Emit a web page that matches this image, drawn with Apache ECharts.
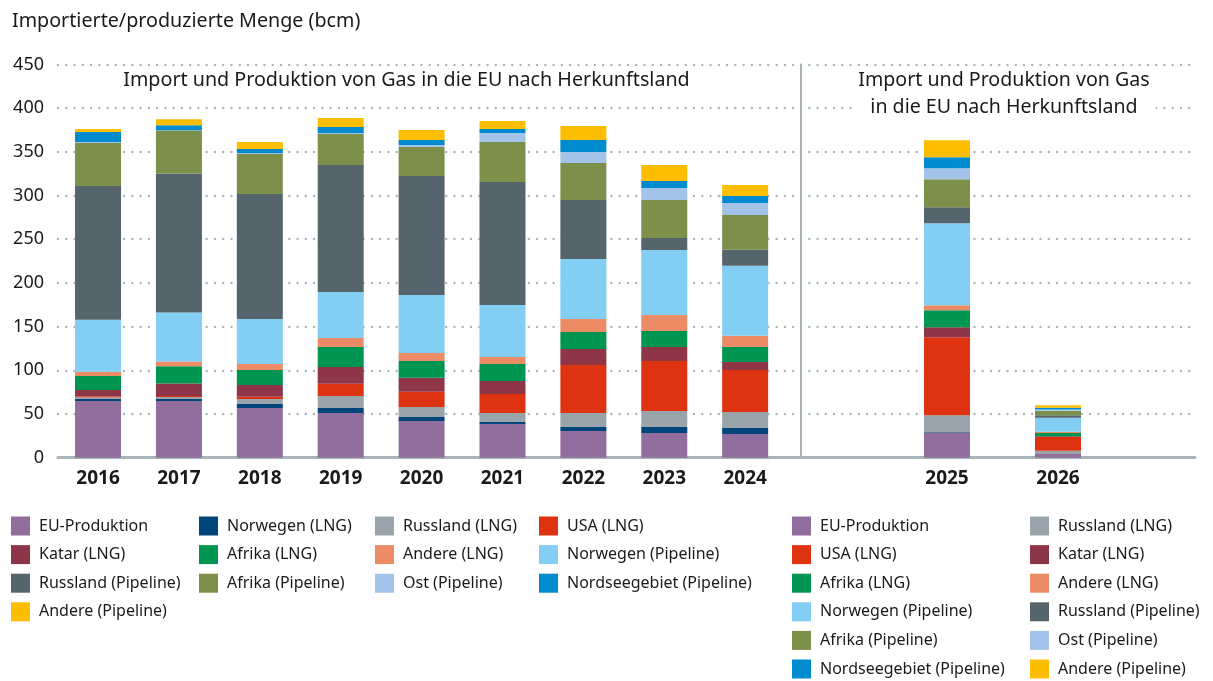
<!DOCTYPE html>
<html>
<head>
<meta charset="utf-8">
<script src="https://cdn.jsdelivr.net/npm/echarts@6/dist/echarts.min.js"></script>
<style>
  html, body { margin: 0; padding: 0; background: #fff; }
  #chart { width: 1213px; height: 681px; }
</style>
</head>
<body>
<div id="chart"></div>
<script>
// ---- Data (bcm) ----
const yearsHist = ['2016', '2017', '2018', '2019', '2020', '2021', '2022', '2023', '2024'];
const yearsForecast = ['2025', '2026'];
const yTicks = [0, 50, 100, 150, 200, 250, 300, 350, 400, 450];

// values: 2016..2024, then 2025, 2026
const euProduktion     = [64.8, 64.8, 56.8, 51.1, 42.0, 38.5, 30.5, 28.2, 27.1, 28.2, 4.2];
const norwegenLNG      = [2.7, 2.3, 4.6, 5.7, 4.6, 2.3, 4.6, 6.9, 6.9, 1.0, 0];
const russlandLNG      = [1.5, 2.3, 5.7, 13.7, 11.4, 10.3, 16.0, 18.3, 18.3, 19.5, 3.8];
const usaLNG           = [1.0, 1.1, 2.7, 14.1, 17.5, 21.7, 54.9, 57.2, 48.1, 89.2, 15.6];
const katarLNG         = [7.6, 14.5, 13.3, 19.1, 16.0, 14.9, 18.3, 16.0, 9.2, 11.4, 0.8];
const afrikaLNG        = [16.0, 19.5, 17.2, 22.9, 19.1, 19.5, 19.5, 18.3, 17.2, 19.5, 3.8];
const andereLNG        = [4.6, 5.7, 6.9, 10.3, 9.2, 8.0, 14.9, 18.3, 12.6, 5.7, 1.5];
const norwegenPipe     = [59.5, 56.0, 51.5, 52.6, 66.4, 59.5, 68.6, 74.4, 80.1, 93.8, 16.0];
const russlandPipe     = [153.3, 159.0, 143.0, 145.3, 136.2, 140.7, 67.5, 13.7, 18.3, 18.3, 3.0];
const afrikaPipe       = [49.2, 49.2, 45.8, 35.5, 33.2, 45.8, 42.3, 43.5, 40.0, 32.0, 5.0];
const ostPipe          = [1.1, 0.3, 1.1, 1.1, 2.3, 10.3, 12.6, 13.7, 13.7, 12.6, 1.5];
const nordseePipe      = [11.4, 5.7, 4.6, 6.9, 5.7, 4.6, 13.7, 8.0, 8.0, 12.6, 1.9];
const anderePipe       = [3.4, 6.9, 8.0, 10.3, 11.4, 9.2, 16.0, 18.3, 12.6, 19.5, 3.0];

const seriesDefs = [
  { name: 'EU-Produktion', values: euProduktion, color: '#926e9e' },
  { name: 'Norwegen (LNG)', values: norwegenLNG, color: '#00457a' },
  { name: 'Russland (LNG)', values: russlandLNG, color: '#99a4ab' },
  { name: 'USA (LNG)', values: usaLNG, color: '#de3310' },
  { name: 'Katar (LNG)', values: katarLNG, color: '#8e3548' },
  { name: 'Afrika (LNG)', values: afrikaLNG, color: '#009551' },
  { name: 'Andere (LNG)', values: andereLNG, color: '#eb8c66' },
  { name: 'Norwegen (Pipeline)', values: norwegenPipe, color: '#83cff4' },
  { name: 'Russland (Pipeline)', values: russlandPipe, color: '#56646c' },
  { name: 'Afrika (Pipeline)', values: afrikaPipe, color: '#7d904b' },
  { name: 'Ost (Pipeline)', values: ostPipe, color: '#a3c3e8' },
  { name: 'Nordseegebiet (Pipeline)', values: nordseePipe, color: '#008bcf' },
  { name: 'Andere (Pipeline)', values: anderePipe, color: '#fdbd00' }
];

const legendLeftCols = [
  ['EU-Produktion', 'Katar (LNG)', 'Russland (Pipeline)', 'Andere (Pipeline)'],
  ['Norwegen (LNG)', 'Afrika (LNG)', 'Afrika (Pipeline)'],
  ['Russland (LNG)', 'Andere (LNG)', 'Ost (Pipeline)'],
  ['USA (LNG)', 'Norwegen (Pipeline)', 'Nordseegebiet (Pipeline)']
];
const legendRightCols = [
  ['EU-Produktion', 'USA (LNG)', 'Afrika (LNG)', 'Norwegen (Pipeline)', 'Afrika (Pipeline)', 'Nordseegebiet (Pipeline)'],
  ['Russland (LNG)', 'Katar (LNG)', 'Andere (LNG)', 'Russland (Pipeline)', 'Ost (Pipeline)', 'Andere (Pipeline)']
];

const titleHist = 'Import und Produktion von Gas in die EU nach Herkunftsland';
const titleForecast = 'Import und Produktion von Gas\nin die EU nach Herkunftsland';
const yAxisTitle = 'Importierte/produzierte Menge (bcm)';

// ---- Layout / style ----
const FONT = 'Noto Sans';
const TXT = '#1a1a1a';
const LINEC = '#a9b4bb';
const TOP = 64.4, HEIGHT = 393.3;
const nHist = yearsHist.length;

const splitLineStyle = { show: true, lineStyle: { color: LINEC, width: 2.4, type: [0.01, 8.25], cap: 'round' } };

function bgYAxis(gridIndex, labels, sepLine) {
  return {
    type: 'value', gridIndex: gridIndex, min: yTicks[0], max: yTicks[yTicks.length - 1],
    interval: yTicks[1] - yTicks[0],
    axisLabel: { show: labels, fontFamily: FONT, fontSize: 18, color: TXT, margin: 14 },
    axisLine: { show: sepLine, lineStyle: { color: LINEC, width: 2 } },
    axisTick: { show: false },
    splitLine: splitLineStyle
  };
}
function bgXAxis(gridIndex) {
  return {
    type: 'value', gridIndex: gridIndex, min: 0, max: 1,
    axisLine: { show: true, onZero: false, lineStyle: { color: LINEC, width: 3 } },
    axisLabel: { show: false }, axisTick: { show: false }, splitLine: { show: false }
  };
}
function dataXAxis(gridIndex, cats) {
  return {
    type: 'category', gridIndex: gridIndex, data: cats,
    axisLine: { show: false }, axisTick: { show: false },
    axisLabel: { fontFamily: FONT, fontSize: 19, fontWeight: 'bold', color: TXT, margin: 11 }
  };
}
function dataYAxis(gridIndex) {
  return { type: 'value', gridIndex: gridIndex, min: yTicks[0], max: yTicks[yTicks.length - 1], show: false, splitLine: { show: false } };
}

const series = [];
seriesDefs.forEach(function (d) {
  series.push({
    name: d.name, type: 'bar', stack: 'hist', xAxisIndex: 2, yAxisIndex: 2,
    barWidth: 46, itemStyle: { color: d.color }, data: d.values.slice(0, nHist)
  });
});
seriesDefs.forEach(function (d) {
  series.push({
    name: d.name, type: 'bar', stack: 'fc', xAxisIndex: 3, yAxisIndex: 3,
    barWidth: 46, itemStyle: { color: d.color }, data: d.values.slice(nHist)
  });
});

function legendCol(names, left) {
  return {
    orient: 'vertical', left: left, top: 516.5, padding: 0,
    itemWidth: 19, itemHeight: 19, itemGap: 9.6, icon: 'rect',
    textStyle: { fontFamily: FONT, fontSize: 16, color: TXT, padding: [0, 0, 0, 4] },
    data: names
  };
}

const option = {
  animation: false,
  backgroundColor: '#ffffff',
  textStyle: { fontFamily: FONT },
  grid: [
    { left: 58, top: TOP, width: 743, height: HEIGHT },
    { left: 801, top: TOP, width: 394, height: HEIGHT },
    { left: 57.6, top: TOP, width: 728, height: HEIGHT },
    { left: 891.5, top: TOP, width: 222, height: HEIGHT }
  ],
  xAxis: [bgXAxis(0), bgXAxis(1), dataXAxis(2, yearsHist), dataXAxis(3, yearsForecast)],
  yAxis: [bgYAxis(0, true, false), bgYAxis(1, false, true), dataYAxis(2), dataYAxis(3)],
  legend: [
    legendCol(legendLeftCols[0], 11),
    legendCol(legendLeftCols[1], 199),
    legendCol(legendLeftCols[2], 375),
    legendCol(legendLeftCols[3], 539),
    legendCol(legendRightCols[0], 792),
    legendCol(legendRightCols[1], 1030)
  ],
  graphic: [
    { type: 'text', x: 12, y: 21, z: 100, style: { text: yAxisTitle, font: '19.7px "Noto Sans"', fill: TXT, align: 'left', verticalAlign: 'middle' } },
    { type: 'text', x: 406.5, y: 80, z: 100, style: { text: titleHist, font: '19.7px "Noto Sans"', fill: TXT, align: 'center', verticalAlign: 'middle', backgroundColor: '#fff', padding: [2, 6] } },
    { type: 'text', x: 1004, y: 93.5, z: 100, style: { text: titleForecast, font: '19.6px "Noto Sans"', lineHeight: 27, fill: TXT, align: 'center', verticalAlign: 'middle', backgroundColor: '#fff', padding: [0, 6] } }
  ],
  series: series
};

const chart = echarts.init(document.getElementById('chart'), null, { renderer: 'canvas' });
chart.setOption(option);
</script>
</body>
</html>
